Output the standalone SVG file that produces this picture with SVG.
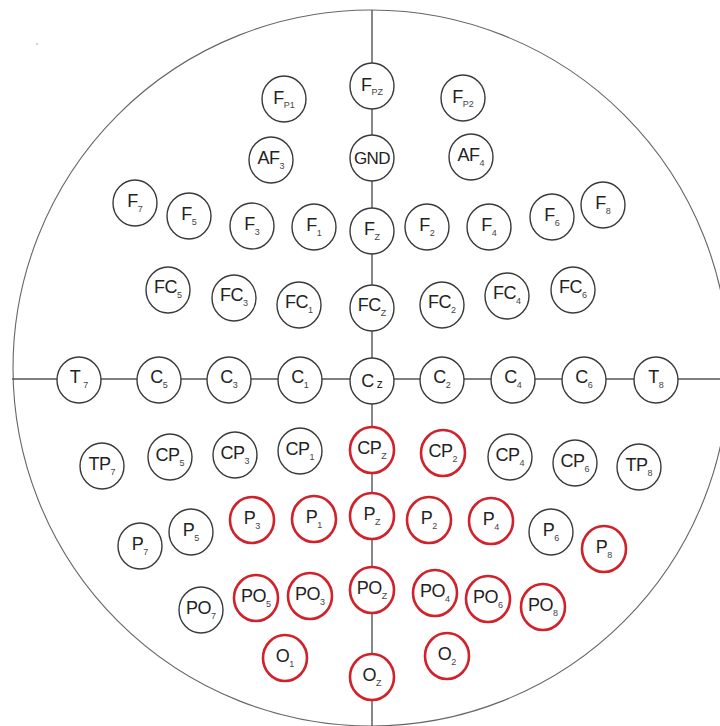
<svg xmlns="http://www.w3.org/2000/svg" width="720" height="726" viewBox="0 0 720 726">
<style>
.bg{fill:#ffffff}
.head{fill:none;stroke:#666;stroke-width:1.1}
.ln{stroke:#555;stroke-width:1.4;fill:none}
.e{fill:#fff;stroke:#3a3a3a;stroke-width:1.4}
.r{fill:#fff;stroke:#d1212b;stroke-width:2.6}
text{font-family:"Liberation Sans",Arial,sans-serif;font-size:18px;fill:#222;text-anchor:middle;letter-spacing:-0.6px}
tspan.s{font-size:9px;fill:#444;letter-spacing:0}
</style>
<rect class="bg" x="0" y="0" width="720" height="726"/>
<ellipse class="head" cx="371" cy="368" rx="358" ry="358"/>
<circle cx="37" cy="44" r="0.8" fill="#999"/>
<g id="connectors">
<line class="ln" x1="372" y1="10" x2="372" y2="726"/>
<line class="ln" x1="12" y1="379" x2="720" y2="379"/>
</g>
<g id="Fp1"><ellipse class="e" cx="284" cy="99" rx="22" ry="23"/><text x="284" y="104">F<tspan class="s" dy="4">P1</tspan></text></g>
<g id="Fpz"><ellipse class="e" cx="372" cy="86" rx="22" ry="23"/><text x="372" y="91">F<tspan class="s" dy="4">PZ</tspan></text></g>
<g id="Fp2"><ellipse class="e" cx="463" cy="98" rx="22" ry="23"/><text x="463" y="103">F<tspan class="s" dy="4">P2</tspan></text></g>
<g id="AF3"><ellipse class="e" cx="271" cy="160" rx="22" ry="23"/><text x="271" y="164">AF<tspan class="s" dy="5">3</tspan></text></g>
<g id="GND"><ellipse class="e" cx="372" cy="158" rx="22" ry="23"/><text x="372" y="164" style="font-size:17px">GND</text></g>
<g id="AF4"><ellipse class="e" cx="471" cy="157" rx="22" ry="23"/><text x="471" y="161">AF<tspan class="s" dy="5">4</tspan></text></g>
<g id="F7"><ellipse class="e" cx="135" cy="203" rx="22" ry="23"/><text x="135" y="207">F<tspan class="s" dy="5">7</tspan></text></g>
<g id="F5"><ellipse class="e" cx="189" cy="216" rx="22" ry="23"/><text x="189" y="220">F<tspan class="s" dy="5">5</tspan></text></g>
<g id="F3"><ellipse class="e" cx="252" cy="226" rx="22" ry="23"/><text x="252" y="230">F<tspan class="s" dy="5">3</tspan></text></g>
<g id="F1"><ellipse class="e" cx="314" cy="227" rx="22" ry="23"/><text x="314" y="231">F<tspan class="s" dy="5">1</tspan></text></g>
<g id="Fz"><ellipse class="e" cx="372" cy="231" rx="22" ry="23"/><text x="372" y="235">F<tspan class="s" dy="5">Z</tspan></text></g>
<g id="F2"><ellipse class="e" cx="427" cy="227" rx="22" ry="23"/><text x="427" y="231">F<tspan class="s" dy="5">2</tspan></text></g>
<g id="F4"><ellipse class="e" cx="489" cy="227" rx="22" ry="23"/><text x="489" y="231">F<tspan class="s" dy="5">4</tspan></text></g>
<g id="F6"><ellipse class="e" cx="552" cy="217" rx="22" ry="23"/><text x="552" y="221">F<tspan class="s" dy="5">6</tspan></text></g>
<g id="F8"><ellipse class="e" cx="603" cy="205" rx="22" ry="23"/><text x="603" y="209">F<tspan class="s" dy="5">8</tspan></text></g>
<g id="FC5"><ellipse class="e" cx="168" cy="290" rx="22" ry="23"/><text x="168" y="293">FC<tspan class="s" dy="5">5</tspan></text></g>
<g id="FC3"><ellipse class="e" cx="234" cy="298" rx="22" ry="23"/><text x="234" y="301">FC<tspan class="s" dy="5">3</tspan></text></g>
<g id="FC1"><ellipse class="e" cx="299" cy="305" rx="22" ry="23"/><text x="299" y="308">FC<tspan class="s" dy="5">1</tspan></text></g>
<g id="FCz"><ellipse class="e" cx="372" cy="308" rx="22" ry="23"/><text x="372" y="311">FC<tspan class="s" dy="5">Z</tspan></text></g>
<g id="FC2"><ellipse class="e" cx="442" cy="305" rx="22" ry="23"/><text x="442" y="308">FC<tspan class="s" dy="5">2</tspan></text></g>
<g id="FC4"><ellipse class="e" cx="507" cy="296" rx="22" ry="23"/><text x="507" y="299">FC<tspan class="s" dy="5">4</tspan></text></g>
<g id="FC6"><ellipse class="e" cx="573" cy="290" rx="22" ry="23"/><text x="573" y="293">FC<tspan class="s" dy="5">6</tspan></text></g>
<g id="T7"><ellipse class="e" cx="79" cy="380" rx="22" ry="23"/><text x="79" y="383">T<tspan class="s" dy="5" dx="3">7</tspan></text></g>
<g id="C5"><ellipse class="e" cx="159" cy="380" rx="22" ry="23"/><text x="159" y="383">C<tspan class="s" dy="5">5</tspan></text></g>
<g id="C3"><ellipse class="e" cx="229" cy="380" rx="22" ry="23"/><text x="229" y="383">C<tspan class="s" dy="5">3</tspan></text></g>
<g id="C1"><ellipse class="e" cx="300" cy="380" rx="22" ry="23"/><text x="300" y="383">C<tspan class="s" dy="5">1</tspan></text></g>
<g id="Cz"><ellipse class="e" cx="372" cy="381" rx="22" ry="23"/><text x="372" y="387">C<tspan style="font-size:12px;letter-spacing:0" dx="3" dy="1">z</tspan></text></g>
<g id="C2"><ellipse class="e" cx="442" cy="380" rx="22" ry="23"/><text x="442" y="383">C<tspan class="s" dy="5">2</tspan></text></g>
<g id="C4"><ellipse class="e" cx="513" cy="380" rx="22" ry="23"/><text x="513" y="383">C<tspan class="s" dy="5">4</tspan></text></g>
<g id="C6"><ellipse class="e" cx="584" cy="380" rx="22" ry="23"/><text x="584" y="383">C<tspan class="s" dy="5">6</tspan></text></g>
<g id="T8"><ellipse class="e" cx="656" cy="380" rx="22" ry="23"/><text x="656" y="383">T<tspan class="s" dy="5">8</tspan></text></g>
<g id="TP7"><ellipse class="e" cx="102" cy="466" rx="22" ry="23"/><text x="102" y="470">TP<tspan class="s" dy="5">7</tspan></text></g>
<g id="CP5"><ellipse class="e" cx="170" cy="457" rx="22" ry="23"/><text x="170" y="461">CP<tspan class="s" dy="5">5</tspan></text></g>
<g id="CP3"><ellipse class="e" cx="235" cy="455" rx="22" ry="23"/><text x="235" y="459">CP<tspan class="s" dy="5">3</tspan></text></g>
<g id="CP1"><ellipse class="e" cx="300" cy="451" rx="22" ry="23"/><text x="300" y="455">CP<tspan class="s" dy="5">1</tspan></text></g>
<g id="CPz"><ellipse class="r" cx="372" cy="450" rx="22" ry="23"/><text x="372" y="454">CP<tspan class="s" dy="5">Z</tspan></text></g>
<g id="CP2"><ellipse class="r" cx="443" cy="453" rx="22" ry="23"/><text x="443" y="457">CP<tspan class="s" dy="5">2</tspan></text></g>
<g id="CP4"><ellipse class="e" cx="510" cy="457" rx="22" ry="23"/><text x="510" y="461">CP<tspan class="s" dy="5">4</tspan></text></g>
<g id="CP6"><ellipse class="e" cx="575" cy="463" rx="22" ry="23"/><text x="575" y="467">CP<tspan class="s" dy="5">6</tspan></text></g>
<g id="TP8"><ellipse class="e" cx="639" cy="467" rx="22" ry="23"/><text x="639" y="471">TP<tspan class="s" dy="5">8</tspan></text></g>
<g id="P7"><ellipse class="e" cx="140" cy="546" rx="22" ry="23"/><text x="140" y="550">P<tspan class="s" dy="5">7</tspan></text></g>
<g id="P5"><ellipse class="e" cx="191" cy="532" rx="22" ry="23"/><text x="191" y="536">P<tspan class="s" dy="5">5</tspan></text></g>
<g id="P3"><ellipse class="r" cx="252" cy="520" rx="22" ry="23"/><text x="252" y="524">P<tspan class="s" dy="5">3</tspan></text></g>
<g id="P1"><ellipse class="r" cx="314" cy="519" rx="22" ry="23"/><text x="314" y="523">P<tspan class="s" dy="5">1</tspan></text></g>
<g id="Pz"><ellipse class="r" cx="372" cy="516" rx="22" ry="23"/><text x="372" y="520">P<tspan class="s" dy="5">Z</tspan></text></g>
<g id="P2"><ellipse class="r" cx="429" cy="520" rx="22" ry="23"/><text x="429" y="524">P<tspan class="s" dy="5">2</tspan></text></g>
<g id="P4"><ellipse class="r" cx="491" cy="521" rx="22" ry="23"/><text x="491" y="525">P<tspan class="s" dy="5">4</tspan></text></g>
<g id="P6"><ellipse class="e" cx="551" cy="532" rx="22" ry="23"/><text x="551" y="536">P<tspan class="s" dy="5">6</tspan></text></g>
<g id="P8"><ellipse class="r" cx="604" cy="549" rx="22" ry="23"/><text x="604" y="553">P<tspan class="s" dy="5">8</tspan></text></g>
<g id="PO7"><ellipse class="e" cx="201" cy="610" rx="22" ry="23"/><text x="201" y="614">PO<tspan class="s" dy="5">7</tspan></text></g>
<g id="PO5"><ellipse class="r" cx="256" cy="598" rx="22" ry="23"/><text x="256" y="602">PO<tspan class="s" dy="5">5</tspan></text></g>
<g id="PO3"><ellipse class="r" cx="310" cy="596" rx="22" ry="23"/><text x="310" y="600">PO<tspan class="s" dy="5">3</tspan></text></g>
<g id="POz"><ellipse class="r" cx="372" cy="590" rx="22" ry="23"/><text x="372" y="594">PO<tspan class="s" dy="5">Z</tspan></text></g>
<g id="PO4"><ellipse class="r" cx="435" cy="593" rx="22" ry="23"/><text x="435" y="597">PO<tspan class="s" dy="5">4</tspan></text></g>
<g id="PO6"><ellipse class="r" cx="488" cy="599" rx="22" ry="23"/><text x="488" y="603">PO<tspan class="s" dy="5">6</tspan></text></g>
<g id="PO8"><ellipse class="r" cx="543" cy="607" rx="22" ry="23"/><text x="543" y="611">PO<tspan class="s" dy="5">8</tspan></text></g>
<g id="O1"><ellipse class="r" cx="285" cy="658" rx="22" ry="23"/><text x="285" y="662">O<tspan class="s" dy="5">1</tspan></text></g>
<g id="Oz"><ellipse class="r" cx="372" cy="677" rx="22" ry="23"/><text x="372" y="681">O<tspan class="s" dy="5">Z</tspan></text></g>
<g id="O2"><ellipse class="r" cx="447" cy="656" rx="22" ry="23"/><text x="447" y="660">O<tspan class="s" dy="5">2</tspan></text></g>
</svg>
